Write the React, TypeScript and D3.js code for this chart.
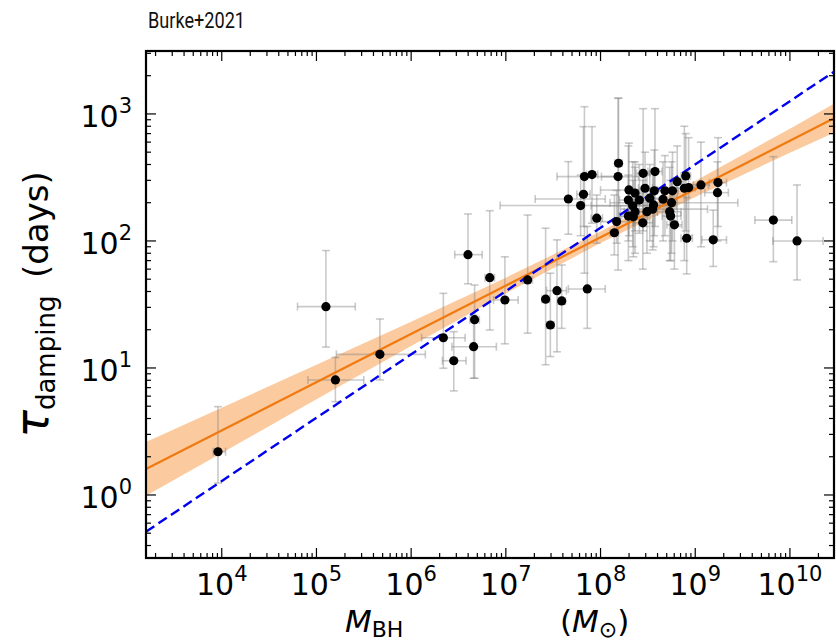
import React from 'react';
import * as d3 from 'd3';

// ---- data ----
const logMass = [5.10, 3.96, 5.20, 5.67, 6.34, 6.45, 6.60, 6.67, 6.66, 6.83, 6.99, 7.23, 7.42, 7.47, 7.54, 7.59, 7.86,
  8.146, 8.17, 7.96, 7.79, 7.82, 7.66, 7.83, 7.91, 8.185, 8.19, 8.30, 8.364, 8.294, 8.41, 8.34, 8.294, 8.364, 8.346,
  8.45, 8.47, 8.575, 8.568, 8.52, 8.56, 8.55, 8.49, 8.446, 8.68, 8.66, 8.76, 8.75, 8.73, 8.74, 8.78, 8.81, 8.90, 8.885,
  8.93, 8.91, 9.06, 9.24, 9.235, 9.19, 9.825, 10.075];
const logMassLo = [4.80, 3.91, 4.91, 5.21, 6.11, 6.33, 6.46, 6.62, 6.43, 6.78, 6.87, 7.18, 7.38, 7.43, 7.43, 7.55, 7.66,
  8.10, 8.00, 7.90, 6.94, 7.75, 7.31, 7.54, 7.85, 8.01, 8.15, 8.00, 8.30, 8.20, 8.30, 7.90, 8.20, 8.25, 8.20,
  8.38, 8.40, 8.50, 8.45, 8.40, 8.45, 8.21, 8.40, 8.35, 8.60, 8.55, 8.70, 8.10, 8.60, 8.65, 8.70, 8.75, 8.85, 8.80,
  8.86, 8.85, 8.98, 9.15, 9.10, 9.07, 9.63, 9.82];
const logMassHi = [5.41, 4.04, 5.50, 6.15, 6.57, 6.58, 6.75, 6.72, 6.90, 6.88, 7.13, 7.28, 7.46, 7.51, 7.64, 7.63, 8.05,
  8.19, 8.35, 8.02, 8.63, 7.89, 8.05, 8.17, 7.97, 8.40, 8.23, 8.60, 8.43, 8.40, 8.50, 8.80, 8.40, 8.50, 8.50,
  8.52, 8.55, 8.65, 8.70, 8.65, 8.70, 9.13, 8.60, 8.55, 8.76, 8.80, 8.82, 9.45, 8.85, 8.85, 8.86, 8.87, 8.95, 8.97,
  9.00, 8.97, 9.14, 9.33, 9.35, 9.33, 10.02, 10.35];
const tau = [30.4, 2.19, 8.05, 12.8, 17.3, 11.4, 78, 24, 14.7, 51.4, 34.3, 49.3, 34.8, 21.8, 40.6, 33.7, 41.9,
  116, 142, 151, 190, 233, 214, 321, 333, 321, 409, 252, 238, 210, 210, 189, 157, 170, 155,
  341, 260, 352, 248, 217, 192, 178, 170, 139, 248, 213, 248, 200, 170, 157, 134, 293, 325, 260,
  263, 105, 276, 288, 240, 102, 146, 100];
const tauLo = [14.6, 1.24, 5.43, 8.05, 9.95, 6.6, 46, 8.3, 8.3, 19.9, 15.5, 18.8, 10.6, 12.3, 13.4, 20.5, 20.5,
  77.6, 96, 96, 110, 130, 113, 55.7, 138, 59, 150, 110, 120, 100, 115, 90, 70, 80, 75,
  120, 130, 130, 110, 100, 90, 85, 80, 60, 110, 100, 100, 80, 70, 70, 60, 130, 120, 70,
  110, 55, 90, 130, 100, 63, 68.7, 49.3];
const tauHi = [84, 4.96, 12.1, 24.3, 38.7, 19.3, 163, 45, 26, 173, 75, 160, 126, 55.7, 102, 64.7, 130,
  230, 250, 230, 330, 794, 421, 1140, 794, 1330, 1330, 590, 420, 560, 400, 420, 330, 380, 300,
  1100, 500, 1100, 520, 400, 360, 340, 330, 300, 470, 420, 500, 420, 380, 300, 250, 560, 700, 800,
  650, 220, 600, 650, 420, 175, 461, 276];

// best-fit relation (orange) and its band
const fitMass = [1585, 2.92e10];
const fitTau = [1.6, 925];
const bandLogMass = [3.2, 4, 5, 6, 7, 8, 9, 10, 10.466];
const bandLo = [0.986, 2.14, 5.66, 14.9, 38.6, 96.4, 222, 494, 710];
const bandHi = [2.61, 4.86, 10.6, 23.1, 51.4, 118.6, 296, 766, 1205];
// comparison relation (blue dashed)
const refMass = [1585, 2.92e10];
const refTau = [0.514, 2150];

const xTickExps = [4, 5, 6, 7, 8, 9, 10];
const yTickExps = [0, 1, 2, 3];
const xDomain = [1585, 2.92e10];
const yDomain = [0.319, 3130];

const W = 836, H = 643;
const L = 146, R = 834, T = 51, B = 558;
const FONT = 'DejaVu Sans, sans-serif';

export default function App() {
  const x = d3.scaleLog().domain(xDomain).range([L, R]);
  const y = d3.scaleLog().domain(yDomain).range([B, T]);

  const bandArea = d3.area<number>()
    .x((d) => x(Math.pow(10, bandLogMass[d])))
    .y0((d) => y(bandLo[d]))
    .y1((d) => y(bandHi[d]));
  const bandIdx = bandLogMass.map((_, i) => i);

  const line = d3.line<[number, number]>().x((d) => x(d[0])).y((d) => y(d[1]));
  const fitPts: [number, number][] = fitMass.map((m, i) => [m, fitTau[i]]);
  const refPts: [number, number][] = refMass.map((m, i) => [m, refTau[i]]);

  // minor ticks
  const xMinor: number[] = [];
  for (let e = 3; e <= 10; e++) for (let k = 2; k <= 9; k++) {
    const v = k * Math.pow(10, e);
    if (v > xDomain[0] && v < xDomain[1]) xMinor.push(v);
  }
  const yMinor: number[] = [];
  for (let e = -1; e <= 3; e++) for (let k = 2; k <= 9; k++) {
    const v = k * Math.pow(10, e);
    if (v > yDomain[0] && v < yDomain[1]) yMinor.push(v);
  }
  const MAJ = 10, MIN = 5;
  const cap = 4;
  const ebColor = 'rgba(128,128,128,0.42)';

  return (
    <svg width={W} height={H} style={{ position: 'absolute', left: 0, top: 0, background: '#fff' }}
      xmlns="http://www.w3.org/2000/svg">
      <defs>
        <clipPath id="plotclip"><rect x={L} y={T} width={R - L} height={B - T} /></clipPath>
      </defs>
      <text x={148} y={28} fontFamily="Roboto, sans-serif" fontSize={22} fill="#111"
        textLength={97} lengthAdjust="spacingAndGlyphs">Burke+2021</text>

      <g clipPath="url(#plotclip)">
        <path d={bandArea(bandIdx) || ''} fill="#f9b57a" fillOpacity={0.72} stroke="none" />
        {/* error bars */}
        {logMass.map((lm, i) => {
          const cx = x(Math.pow(10, lm));
          const cy = y(tau[i]);
          const x0 = x(Math.pow(10, logMassLo[i]));
          const x1 = x(Math.pow(10, logMassHi[i]));
          const y0 = y(tauLo[i]);
          const y1 = y(tauHi[i]);
          return (
            <g key={'e' + i} stroke={ebColor} strokeWidth={1.6} fill="none">
              <line x1={cx} x2={cx} y1={y0} y2={y1} />
              <line x1={cx - cap} x2={cx + cap} y1={y0} y2={y0} />
              <line x1={cx - cap} x2={cx + cap} y1={y1} y2={y1} />
              <line x1={x0} x2={x1} y1={cy} y2={cy} />
              <line x1={x0} x2={x0} y1={cy - cap} y2={cy + cap} />
              <line x1={x1} x2={x1} y1={cy - cap} y2={cy + cap} />
            </g>
          );
        })}
        <path d={line(fitPts) || ''} stroke="#f07a10" strokeWidth={2.2} fill="none" />
        <path d={line(refPts) || ''} stroke="#0000ee" strokeWidth={2.4} strokeDasharray="10,5" fill="none" />
        {logMass.map((lm, i) => (
          <circle key={'p' + i} cx={x(Math.pow(10, lm))} cy={y(tau[i])} r={4.6} fill="#000" />
        ))}
      </g>

      {/* ticks */}
      <g stroke="#000" strokeWidth={1.2}>
        {xTickExps.map((e) => {
          const px = x(Math.pow(10, e));
          return (
            <g key={'xt' + e}>
              <line x1={px} x2={px} y1={B} y2={B - MAJ} />
              <line x1={px} x2={px} y1={T} y2={T + MAJ} />
            </g>
          );
        })}
        {xMinor.map((v, i) => {
          const px = x(v);
          return (
            <g key={'xm' + i}>
              <line x1={px} x2={px} y1={B} y2={B - MIN} />
              <line x1={px} x2={px} y1={T} y2={T + MIN} />
            </g>
          );
        })}
        {yTickExps.map((e) => {
          const py = y(Math.pow(10, e));
          return (
            <g key={'yt' + e}>
              <line x1={L} x2={L + MAJ} y1={py} y2={py} />
              <line x1={R} x2={R - MAJ} y1={py} y2={py} />
            </g>
          );
        })}
        {yMinor.map((v, i) => {
          const py = y(v);
          return (
            <g key={'ym' + i}>
              <line x1={L} x2={L + MIN} y1={py} y2={py} />
              <line x1={R} x2={R - MIN} y1={py} y2={py} />
            </g>
          );
        })}
      </g>
      <rect x={L} y={T} width={R - L} height={B - T} fill="none" stroke="#000" strokeWidth={2.2} />

      {/* tick labels */}
      {xTickExps.map((e) => (
        <text key={'xl' + e} x={x(Math.pow(10, e))} y={595} textAnchor="middle" fontFamily={FONT} fontSize={30} fill="#000">
          10<tspan fontSize={21} dy={-14}>{e}</tspan>
        </text>
      ))}
      {yTickExps.map((e) => (
        <text key={'yl' + e} x={132} y={y(Math.pow(10, e)) + 13} textAnchor="end" fontFamily={FONT} fontSize={30} fill="#000">
          10<tspan fontSize={21} dy={-14}>{e}</tspan>
        </text>
      ))}

      {/* axis labels */}
      <text x={345} y={632} fontFamily={FONT} fontSize={31} fill="#000">
        <tspan fontStyle="italic">M</tspan><tspan fontSize={22} dy={5}>BH</tspan>
      </text>
      <text x={560} y={632} fontFamily={FONT} fontSize={31} fill="#000">
        (<tspan fontStyle="italic">M</tspan><tspan fontSize={22} dy={5}>⊙</tspan><tspan dy={-5}>)</tspan>
      </text>
      <text transform={`translate(48,${(T + B) / 2}) rotate(-90)`} textAnchor="middle" fontFamily={FONT} fontSize={34} fill="#000">
        <tspan fontStyle="italic" fontSize={46}>τ</tspan><tspan fontSize={26} dy={7}>damping</tspan><tspan dy={-7}>{'\u2009 (days)'}</tspan>
      </text>
    </svg>
  );
}
